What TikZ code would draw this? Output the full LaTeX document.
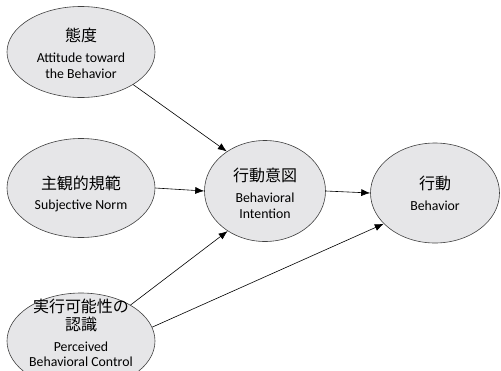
\documentclass[tikz,border=0pt]{standalone}
\usepackage{fontspec}
\setmainfont{Carlito}
\newfontfamily\jp{Noto Sans CJK JP}
\usetikzlibrary{shapes.geometric,arrows.meta}
\definecolor{bubble}{RGB}{230,230,232}
\tikzset{
  bub/.style={ellipse,draw=black!75,line width=0.6pt,fill=bubble,inner sep=0pt},
  jt/.style={font=\jp\fontsize{16}{19}\selectfont,inner sep=0pt},
  et/.style={font=\fontsize{13.8}{16}\selectfont,inner sep=0pt,align=center},
  arr/.style={line width=0.6pt,-{Latex[length=9pt,width=7pt]}}
}
\begin{document}
\begin{tikzpicture}[x=1pt,y=-1pt]
\useasboundingbox (0,0) rectangle (501,370);
\clip (0,0) rectangle (501,370);
\node[bub,minimum width=148pt,minimum height=91pt] (a) at (81,52) {};
\node[bub,minimum width=148pt,minimum height=99pt] (b) at (81,188) {};
\node[bub,minimum width=148pt,minimum height=96pt] (c) at (81,341) {};
\node[bub,minimum width=121pt,minimum height=101pt] (d) at (265,191) {};
\node[bub,minimum width=129pt,minimum height=100pt] (e) at (435,193) {};
% texts
\node[jt] (a1) at (81,35) {態度};
\node[et] (a2) at (81,66) {Attitude toward\\the Behavior};
\node[jt] (b1) at (81,183) {主観的規範};
\node[et] (b2) at (81,206) {Subjective Norm};
\node[jt] (c1) at (81,306) {実行可能性の};
\node[jt] (c2) at (81,324) {認識};
\node[et] (c3) at (81,347) {Perceived};
\node[et] (c4) at (81,362) {Behavioral Control};
\node[jt] (d1) at (265,175) {行動意図};
\node[et] (d2) at (265,206) {Behavioral\\Intention};
\node[jt] (e1) at (435,183) {行動};
\node[et] (e2) at (435,206) {Behavior};
% arrows
\draw[arr] (a.-32) -- (d.134);
\draw[arr] (b.east) -- (d.west);
\draw[arr] (c.36) -- (d.-133);
\draw[arr] (c.11) -- (e.-149);
\draw[arr] (d.east) -- (e.west);
\end{tikzpicture}
\end{document}
